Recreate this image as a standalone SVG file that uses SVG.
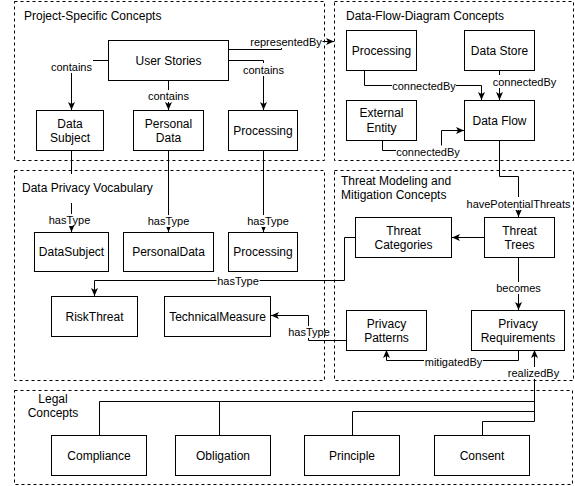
<svg xmlns="http://www.w3.org/2000/svg" width="575" height="486" viewBox="0 0 575 486">
<defs>
<style>
text{font-family:"Liberation Sans",Arial,Helvetica,sans-serif;fill:#000}
.box{fill:#fff;stroke:#000;stroke-width:1}
.grp{fill:none;stroke:#000;stroke-width:1;stroke-dasharray:3 3}
.e{fill:none;stroke:#000;stroke-width:1}
.a{marker-end:url(#arr)}
.lbg{fill:#fff}
.l{font-size:11px;text-anchor:middle}
.t{font-size:12px;text-anchor:middle}
.gt{font-size:12px}
</style>
<marker id="arr" markerUnits="userSpaceOnUse" markerWidth="9" markerHeight="8" refX="8" refY="3.5" orient="auto">
<path d="M0,0 L8,3.5 L0,7 L2,3.5 Z" fill="#000"/>
</marker>
</defs>
<rect width="575" height="486" fill="#fff"/>

<g id="connectors">
<path class="e a" d="M228,49.5 H281.5 V41.5 H334"/>
<path class="e a" d="M108,60.5 H71.5 V110"/>
<path class="e a" d="M168.5,80 V110"/>
<path class="e a" d="M228,60.5 H263.5 V110"/>
<path class="e a" d="M364.5,70 V85.5 H481.5 V100"/>
<path class="e a" d="M499.5,70 V100"/>
<path class="e a" d="M382.5,140 V150.5 H441.5 V130.5 H464"/>
<path class="e a" d="M499.5,140 V176.5 H518.5 V217"/>
<path class="e a" d="M71.5,150 V232"/>
<path class="e a" d="M168.5,150 V232"/>
<path class="e a" d="M263.5,150 V232"/>
<path class="e a" d="M484,237.5 H452"/>
<path class="e a" d="M355.5,237.5 H344.5 V280.5 H94.5 V296"/>
<path class="e a" d="M518.5,257 V310"/>
<path class="e a" d="M518.5,350 V360.5 H386.5 V350"/>
<path class="e a" d="M346,340.5 H308.5 V315.5 H271"/>
<path class="e" d="M99.5,435 V401.5 H534.5"/>
<path class="e" d="M219.5,435 V401.5"/>
<path class="e" d="M352.5,435 V411.5 H534.5"/>
<path class="e" d="M482.5,435 V421.5 H534.5"/>
<path class="e a" d="M534.5,421.5 V350"/>

<rect class="lbg" x="50" y="60" width="43" height="13"/><text class="l" x="71.5" y="70.5">contains</text>
<rect class="lbg" x="147" y="90" width="43" height="12"/><text class="l" x="168.5" y="100">contains</text>
<rect class="lbg" x="242" y="63" width="43" height="13"/><text class="l" x="263.5" y="73.5">contains</text>
<rect class="lbg" x="249.5" y="35" width="73" height="13"/><text class="l" x="286" y="45.5">representedBy</text>
<rect class="lbg" x="392" y="79" width="64" height="13"/><text class="l" x="424" y="89.5">connectedBy</text>
<rect class="lbg" x="492.5" y="75" width="64" height="13"/><text class="l" x="524.5" y="85.5">connectedBy</text>
<rect class="lbg" x="396" y="145.5" width="64" height="13"/><text class="l" x="428" y="156">connectedBy</text>
<rect class="lbg" x="467.5" y="197" width="102" height="13"/><text class="l" x="518.5" y="207.5">havePotentialThreats</text>
<rect class="lbg" x="48" y="214" width="43" height="12"/><text class="l" x="69.5" y="224">hasType</text>
<rect class="lbg" x="147" y="215" width="43" height="12"/><text class="l" x="168.5" y="225">hasType</text>
<rect class="lbg" x="246.5" y="215" width="43" height="12"/><text class="l" x="268" y="225">hasType</text>
<rect class="lbg" x="216.5" y="274.5" width="43" height="13"/><text class="l" x="238" y="285">hasType</text>
<rect class="lbg" x="495.5" y="282" width="46" height="12"/><text class="l" x="518.5" y="292">becomes</text>
<rect class="lbg" x="424" y="355.5" width="59" height="13"/><text class="l" x="453.5" y="366">mitigatedBy</text>
<rect class="lbg" x="287.5" y="326" width="43" height="12"/><text class="l" x="309" y="336">hasType</text>
<rect class="lbg" x="506.5" y="367" width="54" height="12"/><text class="l" x="533.5" y="377">realizedBy</text>
</g>

<g id="group-project-specific">
<rect class="grp" x="14.5" y="1.5" width="310" height="159"/>
<text class="gt" x="24" y="20">Project-Specific Concepts</text>
</g>
<g id="group-dfd">
<rect class="grp" x="334.5" y="1.5" width="239" height="159"/>
<text class="gt" x="346" y="20">Data-Flow-Diagram Concepts</text>
</g>
<g id="group-dpv">
<rect class="grp" x="14.5" y="170.5" width="310" height="210"/>
<rect class="lbg" x="18" y="174" width="136" height="29"/>
<text class="gt" x="22" y="192">Data Privacy Vocabulary</text>
</g>
<g id="group-threat">
<rect class="grp" x="334.5" y="170.5" width="239" height="210"/>
<text class="gt" x="341" y="185">Threat Modeling and</text>
<text class="gt" x="341" y="199">Mitigation Concepts</text>
</g>
<g id="group-legal">
<rect class="grp" x="14.5" y="390.5" width="558" height="94"/>
<text class="t" x="53" y="403">Legal</text>
<text class="t" x="53" y="417">Concepts</text>
</g>

<g id="user-stories"><rect class="box" x="108.5" y="40.5" width="120" height="40"/><text class="t" x="168.5" y="64.5">User Stories</text></g>
<g id="ps-data-subject"><rect class="box" x="36.5" y="110.5" width="67" height="40"/><text class="t" x="70" y="127.5">Data</text><text class="t" x="70" y="141.5">Subject</text></g>
<g id="ps-personal-data"><rect class="box" x="133.5" y="110.5" width="70" height="40"/><text class="t" x="168.5" y="127.5">Personal</text><text class="t" x="168.5" y="141.5">Data</text></g>
<g id="ps-processing"><rect class="box" x="228.5" y="110.5" width="69" height="40"/><text class="t" x="263" y="134.5">Processing</text></g>

<g id="dfd-processing"><rect class="box" x="346.5" y="30.5" width="70" height="40"/><text class="t" x="381.5" y="54.5">Processing</text></g>
<g id="dfd-data-store"><rect class="box" x="464.5" y="30.5" width="70" height="40"/><text class="t" x="499.5" y="54.5">Data Store</text></g>
<g id="dfd-external-entity"><rect class="box" x="346.5" y="100.5" width="70" height="40"/><text class="t" x="381.5" y="117">External</text><text class="t" x="381.5" y="132">Entity</text></g>
<g id="dfd-data-flow"><rect class="box" x="464.5" y="100.5" width="70" height="40"/><text class="t" x="499.5" y="124.5">Data Flow</text></g>

<g id="dpv-datasubject"><rect class="box" x="34.5" y="232.5" width="74" height="39"/><text class="t" x="71.5" y="256">DataSubject</text></g>
<g id="dpv-personaldata"><rect class="box" x="123.5" y="232.5" width="90" height="39"/><text class="t" x="168.5" y="256">PersonalData</text></g>
<g id="dpv-processing"><rect class="box" x="228.5" y="232.5" width="69" height="39"/><text class="t" x="263" y="256">Processing</text></g>
<g id="dpv-riskthreat"><rect class="box" x="51.5" y="296.5" width="86" height="40"/><text class="t" x="94.5" y="320.5">RiskThreat</text></g>
<g id="dpv-technicalmeasure"><rect class="box" x="164.5" y="296.5" width="106" height="40"/><text class="t" x="217.5" y="320.5">TechnicalMeasure</text></g>

<g id="threat-trees"><rect class="box" x="484.5" y="217.5" width="70" height="40"/><text class="t" x="519.5" y="234.5">Threat</text><text class="t" x="519.5" y="249">Trees</text></g>
<g id="threat-categories"><rect class="box" x="355.5" y="217.5" width="96" height="40"/><text class="t" x="403.5" y="234.5">Threat</text><text class="t" x="403.5" y="249">Categories</text></g>
<g id="privacy-patterns"><rect class="box" x="346.5" y="310.5" width="80" height="40"/><text class="t" x="386.5" y="327.5">Privacy</text><text class="t" x="386.5" y="342">Patterns</text></g>
<g id="privacy-requirements"><rect class="box" x="471.5" y="310.5" width="93" height="40"/><text class="t" x="518" y="327.5">Privacy</text><text class="t" x="518" y="342">Requirements</text></g>

<g id="legal-compliance"><rect class="box" x="51.5" y="435.5" width="95" height="40"/><text class="t" x="99" y="459.5">Compliance</text></g>
<g id="legal-obligation"><rect class="box" x="175.5" y="435.5" width="95" height="40"/><text class="t" x="223" y="459.5">Obligation</text></g>
<g id="legal-principle"><rect class="box" x="304.5" y="435.5" width="95" height="40"/><text class="t" x="352" y="459.5">Principle</text></g>
<g id="legal-consent"><rect class="box" x="434.5" y="435.5" width="95" height="40"/><text class="t" x="482" y="459.5">Consent</text></g>
</svg>
